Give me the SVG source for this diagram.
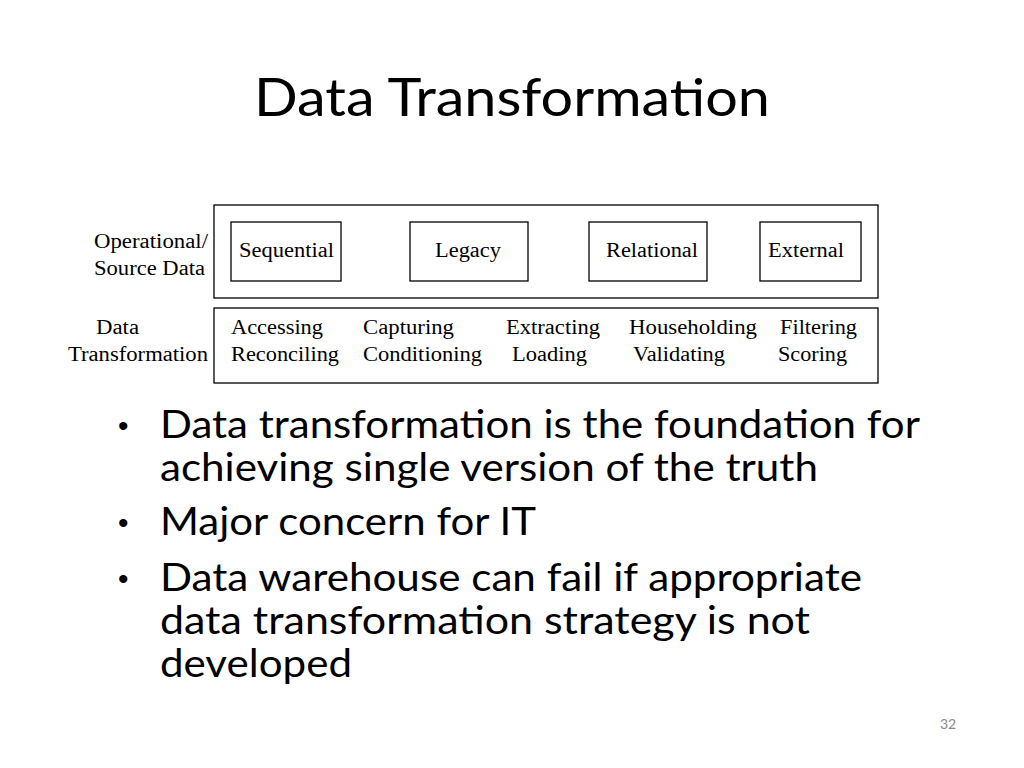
<svg xmlns="http://www.w3.org/2000/svg" width="1024" height="768" viewBox="0 0 1024 768">
<style>
.s{font-family:"Liberation Serif",serif;font-size:20px;fill:#000}
.b{font-family:Lato,"Open Sans",sans-serif;font-size:38px;fill:#000}
.d{font-family:"Liberation Sans",sans-serif;font-size:30px;fill:#000}
.box{fill:#fff;stroke:#000;stroke-width:1.3}
</style>
<rect width="1024" height="768" fill="#fff"/>
<text x="254" y="116" font-family="Lato,'Open Sans',sans-serif" font-size="52" textLength="516" lengthAdjust="spacingAndGlyphs">Data Transformation</text>
<g id="labels">
<text class="s" x="94" y="248" textLength="114" lengthAdjust="spacingAndGlyphs">Operational/</text>
<text class="s" x="94" y="275" textLength="111" lengthAdjust="spacingAndGlyphs">Source Data</text>
<text class="s" x="96" y="334" textLength="43" lengthAdjust="spacingAndGlyphs">Data</text>
<text class="s" x="68" y="361" textLength="140" lengthAdjust="spacingAndGlyphs">Transformation</text>
</g>
<g id="sources">
<rect class="box" x="214" y="205" width="664" height="93"/>
<g id="sequential"><rect class="box" x="231" y="222" width="110" height="59"/><text class="s" x="239" y="257" textLength="95" lengthAdjust="spacingAndGlyphs">Sequential</text></g>
<g id="legacy"><rect class="box" x="410" y="222" width="118" height="59"/><text class="s" x="435" y="257" textLength="66" lengthAdjust="spacingAndGlyphs">Legacy</text></g>
<g id="relational"><rect class="box" x="589" y="222" width="118" height="59"/><text class="s" x="606" y="257" textLength="92" lengthAdjust="spacingAndGlyphs">Relational</text></g>
<g id="external"><rect class="box" x="760" y="222" width="101" height="59"/><text class="s" x="768" y="257" textLength="76" lengthAdjust="spacingAndGlyphs">External</text></g>
</g>
<g id="transform">
<rect class="box" x="214" y="308" width="664" height="75"/>
<text class="s" x="231" y="334" textLength="92" lengthAdjust="spacingAndGlyphs">Accessing</text><text class="s" x="231" y="361" textLength="108" lengthAdjust="spacingAndGlyphs">Reconciling</text>
<text class="s" x="363" y="334" textLength="91" lengthAdjust="spacingAndGlyphs">Capturing</text><text class="s" x="363" y="361" textLength="119" lengthAdjust="spacingAndGlyphs">Conditioning</text>
<text class="s" x="506" y="334" textLength="94" lengthAdjust="spacingAndGlyphs">Extracting</text><text class="s" x="512" y="361" textLength="75" lengthAdjust="spacingAndGlyphs">Loading</text>
<text class="s" x="629" y="334" textLength="128" lengthAdjust="spacingAndGlyphs">Householding</text><text class="s" x="633" y="361" textLength="92" lengthAdjust="spacingAndGlyphs">Validating</text>
<text class="s" x="780" y="334" textLength="77" lengthAdjust="spacingAndGlyphs">Filtering</text><text class="s" x="778" y="361" textLength="69" lengthAdjust="spacingAndGlyphs">Scoring</text>
</g>
<g id="bullets">
<text class="d" x="118" y="436">•</text>
<text class="b" x="160" y="438" textLength="760" lengthAdjust="spacingAndGlyphs">Data transformation is the foundation for</text>
<text class="b" x="160" y="481" textLength="658" lengthAdjust="spacingAndGlyphs">achieving single version of the truth</text>
<text class="d" x="118" y="533">•</text>
<text class="b" x="160" y="535" textLength="376" lengthAdjust="spacingAndGlyphs">Major concern for IT</text>
<text class="d" x="118" y="589">•</text>
<text class="b" x="160" y="591" textLength="702" lengthAdjust="spacingAndGlyphs">Data warehouse can fail if appropriate</text>
<text class="b" x="160" y="634" textLength="650" lengthAdjust="spacingAndGlyphs">data  transformation strategy is not</text>
<text class="b" x="160" y="677" textLength="192" lengthAdjust="spacingAndGlyphs">developed</text>
</g>
<text x="940" y="729" font-family="Lato,sans-serif" font-size="14" fill="#888">32</text>
</svg>
